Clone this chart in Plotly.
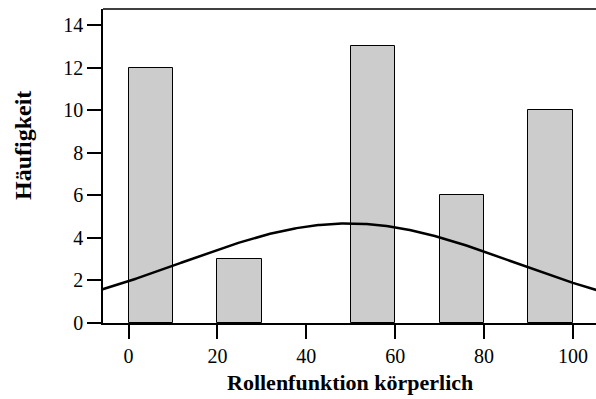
import numpy as np
import plotly.graph_objects as go

# Histogram data
bin_starts = [0, 20, 50, 70, 90]
bin_width = 10
counts = [12, 3, 13, 6, 10]
scores = [0, 25, 50, 75, 100]   # underlying score values of each bar

x_ticks = [0, 20, 40, 60, 80, 100]
y_ticks = [0, 2, 4, 6, 8, 10, 12, 14]

x_title = "Rollenfunktion körperlich"
y_title = "Häufigkeit"

# fitted normal curve from the data
n = sum(counts)
vals = np.repeat(scores, counts).astype(float)
mu = vals.mean()
sd = vals.std(ddof=1)
xc = np.linspace(-6, 106, 300)
yc = n * bin_width / (sd * np.sqrt(2 * np.pi)) * np.exp(-((xc - mu) ** 2) / (2 * sd ** 2))

centers = [s + bin_width / 2 for s in bin_starts]

fig = go.Figure()
fig.add_trace(go.Bar(
    x=centers, y=counts, width=[bin_width] * len(counts),
    marker=dict(color="#cccccc", line=dict(color="black", width=1)),
    showlegend=False, hoverinfo="skip",
))
fig.add_trace(go.Scatter(
    x=xc, y=yc, mode="lines", line=dict(color="black", width=2.5),
    showlegend=False, hoverinfo="skip",
))

serif = "Liberation Serif"
tickfont = dict(family=serif, size=20, color="black")

fig.update_layout(
    width=596, height=399,
    font=dict(family=serif, color="black"),
    margin=dict(l=103, r=0, t=9, b=76),
    paper_bgcolor="white", plot_bgcolor="white",
    bargap=0,
    xaxis=dict(
        range=[-5.75, 105.2], tickvals=x_ticks, ticks="outside", ticklen=14,
        tickwidth=1.5, tickcolor="black", showline=True, linecolor="black",
        linewidth=1.5, showgrid=False, zeroline=False, tickfont=tickfont,
    ),
    yaxis=dict(
        range=[0, 14.75], tickvals=y_ticks, ticks="outside", ticklen=14,
        tickwidth=1.5, tickcolor="black", showline=True, linecolor="black",
        linewidth=1.5, showgrid=False, zeroline=False, tickfont=tickfont,
    ),
    shapes=[dict(type="line", xref="paper", yref="paper", x0=0, x1=1, y0=1, y1=1,
                 line=dict(color="black", width=1.5))],
    annotations=[
        dict(text=f"<b>{x_title}</b>", xref="paper", yref="paper", x=0.5, y=-0.188,
             xanchor="center", yanchor="middle", showarrow=False,
             font=dict(family=serif, size=22, color="black")),
        dict(text=f"<b>{y_title}</b>", xref="paper", yref="paper", x=-0.162, y=0.564,
             xanchor="center", yanchor="middle", showarrow=False, textangle=-90,
             font=dict(family=serif, size=24, color="black")),
    ],
)

fig.write_html("out.html", config={"displayModeBar": False},
               post_script="document.body.style.margin='0';document.body.style.padding='0';")
